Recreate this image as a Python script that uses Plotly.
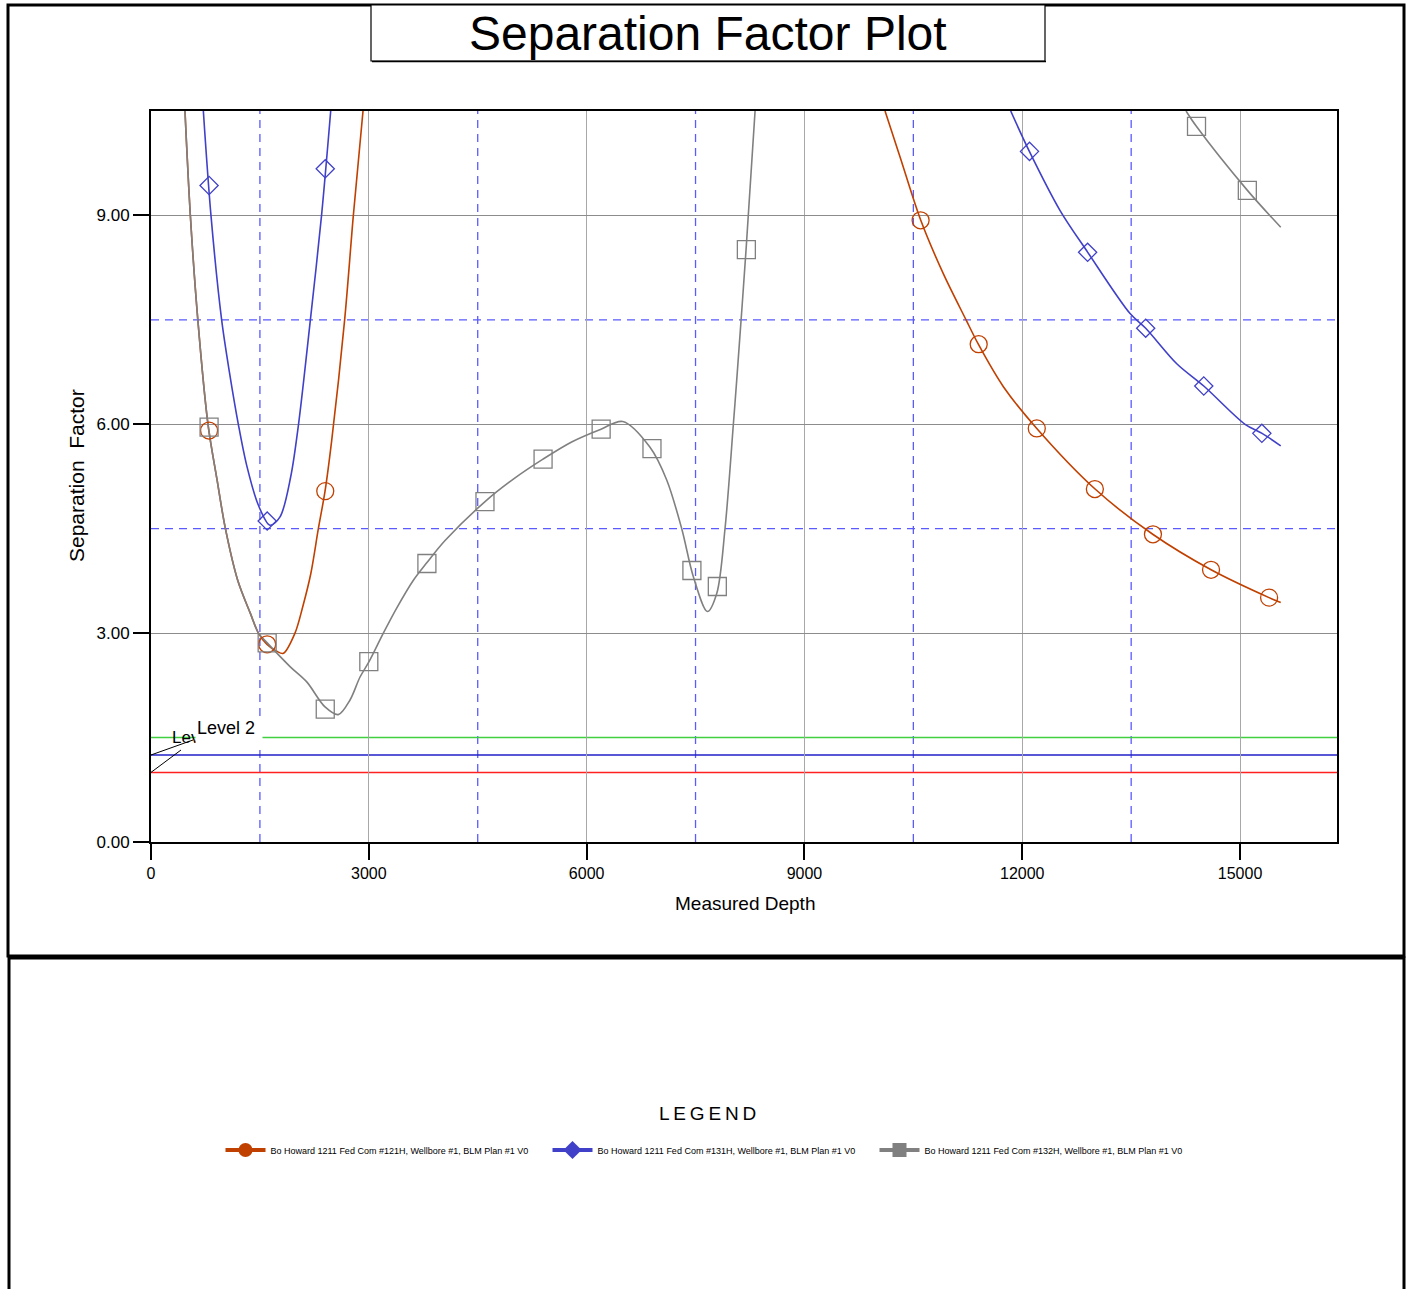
import plotly.graph_objects as go

# ---------------- data ----------------
# Curves: measured depth (ft) and separation factor
orange_a_md = [468, 542, 645, 785, 910, 1025, 1194, 1370, 1480, 1594, 1731, 1823, 1983, 2090, 2200, 2305, 2397, 2489, 2667, 2787, 2920]
orange_a_sf = [10.5, 9.0, 7.5, 6.0, 5.2, 4.5, 3.76, 3.28, 3.0, 2.84, 2.74, 2.71, 3.0, 3.38, 3.85, 4.5, 5.04, 5.77, 7.5, 9.0, 10.5]
orange_b_md = [10110, 10317, 10602, 10914, 11226, 11395, 11740, 12200, 13003, 13797, 14601, 15399, 15560]
orange_b_sf = [10.5, 9.84, 8.93, 8.16, 7.5, 7.15, 6.54, 5.94, 5.07, 4.42, 3.91, 3.51, 3.44]

blue_a_md = [721, 826, 973, 1080, 1203, 1318, 1478, 1639, 1777, 1925, 2032, 2195, 2349, 2475]
blue_a_sf = [10.5, 9.0, 7.5, 6.75, 6.0, 5.41, 4.84, 4.55, 4.67, 5.25, 6.0, 7.5, 9.0, 10.5]
blue_b_md = [11841, 12098, 12521, 12902, 13485, 13700, 14128, 14500, 15069, 15303, 15560]
blue_b_sf = [10.5, 9.92, 9.07, 8.47, 7.59, 7.38, 6.87, 6.55, 6.0, 5.87, 5.69]

gray_a_md = [468, 542, 645, 785, 910, 1025, 1194, 1370, 1480, 1601, 1915, 2145, 2397, 2580, 2741, 2879, 3003, 3200,
             3384, 3614, 3798, 4050, 4601, 5000, 5399, 5800, 6198, 6497, 6873, 7103, 7310, 7470, 7663, 7792, 7906,
             8021, 8067, 8196, 8320]
gray_a_sf = [10.5, 9.0, 7.5, 6.0, 5.2, 4.5, 3.76, 3.28, 3.0, 2.86, 2.52, 2.30, 1.94, 1.83, 2.04, 2.37, 2.59, 3.0,
             3.36, 3.76, 4.01, 4.33, 4.89, 5.22, 5.50, 5.75, 5.93, 6.04, 5.67, 5.20, 4.5, 3.81, 3.31, 3.57, 4.5,
             6.0, 6.63, 8.51, 10.5]
gray_b_md = [14256, 14398, 15101, 15560]
gray_b_sf = [10.5, 10.28, 9.36, 8.83]

# Marker points
orange_mk_md = [800, 1600, 2400, 10600, 11400, 12200, 13000, 13800, 14600, 15400]
orange_mk_sf = [5.91, 2.84, 5.04, 8.93, 7.15, 5.94, 5.07, 4.42, 3.91, 3.51]
blue_mk_md = [800, 1600, 2400, 12100, 12900, 13700, 14500, 15300]
blue_mk_sf = [9.43, 4.61, 9.67, 9.92, 8.47, 7.38, 6.55, 5.87]
gray_mk_md = [800, 1600, 2400, 3000, 3800, 4600, 5400, 6200, 6900, 7450, 7800, 8200, 14400, 15100]
gray_mk_sf = [5.96, 2.86, 1.91, 2.59, 4.0, 4.89, 5.50, 5.93, 5.65, 3.90, 3.67, 8.51, 10.28, 9.36]

series_names = [
    "Bo Howard 1211 Fed Com #121H, Wellbore #1, BLM Plan #1 V0",
    "Bo Howard 1211 Fed Com #131H, Wellbore #1, BLM Plan #1 V0",
    "Bo Howard 1211 Fed Com #132H, Wellbore #1, BLM Plan #1 V0",
]
series_colors = ["#C04000", "#4040C8", "#808080"]

x_ticks = [0, 3000, 6000, 9000, 12000, 15000]
y_ticks = [0, 3, 6, 9]
dashed_x = [1500, 4500, 7500, 10500, 13500]
dashed_y = [4.5, 7.5]
level_values = [1.0, 1.25, 1.5]
level_colors = ["#FF2020", "#2020C8", "#40D040"]

# ---------------- layout geometry ----------------
W, H = 1410, 1289
L, R, T, B = 151, 1337, 111, 842
X_MAX = 16335
Y_MAX = 10.5
FONT = "Liberation Sans, Arial, sans-serif"


def px(x):
    return (x - L) / (R - L)


def py(y):
    return (B - y) / (B - T)


def md_at(pxx):
    return (pxx - L) / (R - L) * X_MAX


def sf_at(pyy):
    return (B - pyy) / (B - T) * Y_MAX


fig = go.Figure()

curves = [
    (orange_a_md, orange_a_sf, 0), (orange_b_md, orange_b_sf, 0),
    (blue_a_md, blue_a_sf, 1), (blue_b_md, blue_b_sf, 1),
    (gray_a_md, gray_a_sf, 2), (gray_b_md, gray_b_sf, 2),
]
for xs, ys, k in curves:
    fig.add_trace(go.Scatter(x=xs, y=ys, mode="lines",
                             line=dict(color=series_colors[k], width=1.6, shape="spline", smoothing=0.9),
                             showlegend=False, hoverinfo="skip", cliponaxis=True))

markers = [
    (orange_mk_md, orange_mk_sf, 0, "circle-open", 17),
    (blue_mk_md, blue_mk_sf, 1, "diamond-open", 14),
    (gray_mk_md, gray_mk_sf, 2, "square-open", 18),
]
for xs, ys, k, sym, sz in markers:
    fig.add_trace(go.Scatter(x=xs, y=ys, mode="markers",
                             marker=dict(symbol=sym, size=sz, color=series_colors[k],
                                         line=dict(width=1.3, color=series_colors[k])),
                             showlegend=False, hoverinfo="skip", cliponaxis=False))

# legend-only entries
leg_syms = ["circle", "diamond", "square"]
for k in range(3):
    fig.add_trace(go.Scatter(x=[None], y=[None], mode="lines+markers", name=series_names[k],
                             line=dict(color=series_colors[k], width=4),
                             marker=dict(symbol=leg_syms[k], size=14, color=series_colors[k])))

shapes = []
for v in dashed_x:
    shapes.append(dict(type="line", xref="x", yref="paper", x0=v, x1=v, y0=0, y1=1,
                       line=dict(color="#5a5aff", width=1.3, dash="8px,6px"), layer="between"))
for v in dashed_y:
    shapes.append(dict(type="line", xref="paper", yref="y", x0=0, x1=1, y0=v, y1=v,
                       line=dict(color="#5a5aff", width=1.3, dash="8px,6px"), layer="between"))
for v, c in zip(level_values, level_colors):
    shapes.append(dict(type="line", xref="paper", yref="y", x0=0, x1=1, y0=v, y1=v,
                       line=dict(color=c, width=1.5), layer="between"))
# leader lines of level labels
shapes.append(dict(type="line", xref="x", yref="y", x0=0, y0=level_values[1], x1=md_at(193), y1=sf_at(740),
                   line=dict(color="black", width=1)))
shapes.append(dict(type="line", xref="x", yref="y", x0=0, y0=level_values[0], x1=md_at(181), y1=sf_at(750),
                   line=dict(color="black", width=1)))

# outer frames
shapes.append(dict(type="rect", xref="paper", yref="paper", x0=px(8), x1=px(1404), y0=py(956), y1=py(5),
                   line=dict(color="black", width=3), layer="below"))
shapes.append(dict(type="rect", xref="paper", yref="paper", x0=px(9), x1=px(1404), y0=py(1300), y1=py(958),
                   line=dict(color="black", width=3), layer="below"))
# title box
shapes.append(dict(type="rect", xref="paper", yref="paper", x0=px(371), x1=px(1045), y0=py(61), y1=py(5),
                   line=dict(color="black", width=1.2), fillcolor="white", layer="below"))
shapes.append(dict(type="line", xref="paper", yref="paper", x0=px(372), x1=px(1046), y0=py(61.5), y1=py(61.5),
                   line=dict(color="black", width=1.5)))

annotations = [
    dict(text="Separation Factor Plot", xref="paper", yref="paper", x=px(708), y=py(34), showarrow=False,
         font=dict(family=FONT, size=48, color="black"), xanchor="center", yanchor="middle"),
    dict(text="Measured Depth", xref="paper", yref="paper", x=px(745), y=py(903), showarrow=False,
         font=dict(family=FONT, size=19, color="black"), xanchor="center", yanchor="middle"),
    dict(text="Separation  Factor", xref="paper", yref="paper", x=px(76), y=py(476), showarrow=False, textangle=-90,
         font=dict(family=FONT, size=21, color="black"), xanchor="center", yanchor="middle"),
    dict(text="L\u2009E\u2009G\u2009E\u2009N\u2009D", xref="paper", yref="paper", x=px(707), y=py(1113),
         showarrow=False, font=dict(family=FONT, size=19, color="black"), xanchor="center", yanchor="middle"),
    dict(text="Level 1", xref="x", yref="y", x=md_at(170), y=sf_at(737), showarrow=False,
         font=dict(family=FONT, size=17, color="black"), xanchor="left", yanchor="middle"),
    dict(text="Level 2", xref="x", yref="y", x=md_at(195), y=sf_at(716), showarrow=False,
         font=dict(family=FONT, size=18, color="black"), xanchor="left", yanchor="top",
         bgcolor="white", width=64, height=25, align="left", valign="top", borderpad=1),
]

fig.update_layout(
    width=W, height=H,
    margin=dict(l=L, r=W - R, t=T, b=H - B, pad=0),
    paper_bgcolor="white", plot_bgcolor="white",
    font=dict(family=FONT, color="black"),
    shapes=shapes, annotations=annotations,
    showlegend=True,
    legend=dict(orientation="h", x=px(711), y=py(1150), xanchor="center", yanchor="middle",
                font=dict(family=FONT, size=9, color="black"), entrywidth=272, entrywidthmode="pixels",
                itemwidth=40, bgcolor="rgba(0,0,0,0)"),
    xaxis=dict(range=[0, X_MAX], tickvals=x_ticks, ticktext=[str(v) for v in x_ticks], showgrid=True,
               gridcolor="#a8a8a8", gridwidth=1, zeroline=False, showline=True, linecolor="black", linewidth=2,
               mirror=True, ticks="outside", ticklen=16, tickwidth=2, tickcolor="black",
               tickfont=dict(family=FONT, size=16, color="black")),
    yaxis=dict(range=[0, Y_MAX], tickvals=y_ticks, tickformat=".2f", showgrid=True,
               gridcolor="#8c8c8c", gridwidth=1, zeroline=False, showline=True, linecolor="black", linewidth=2,
               mirror=True, ticks="outside", ticklen=16, tickwidth=2, tickcolor="black",
               tickfont=dict(family=FONT, size=17, color="black")),
)

fig.write_html("out.html", config={"displayModeBar": False},
               post_script="document.body.style.margin='0';")
